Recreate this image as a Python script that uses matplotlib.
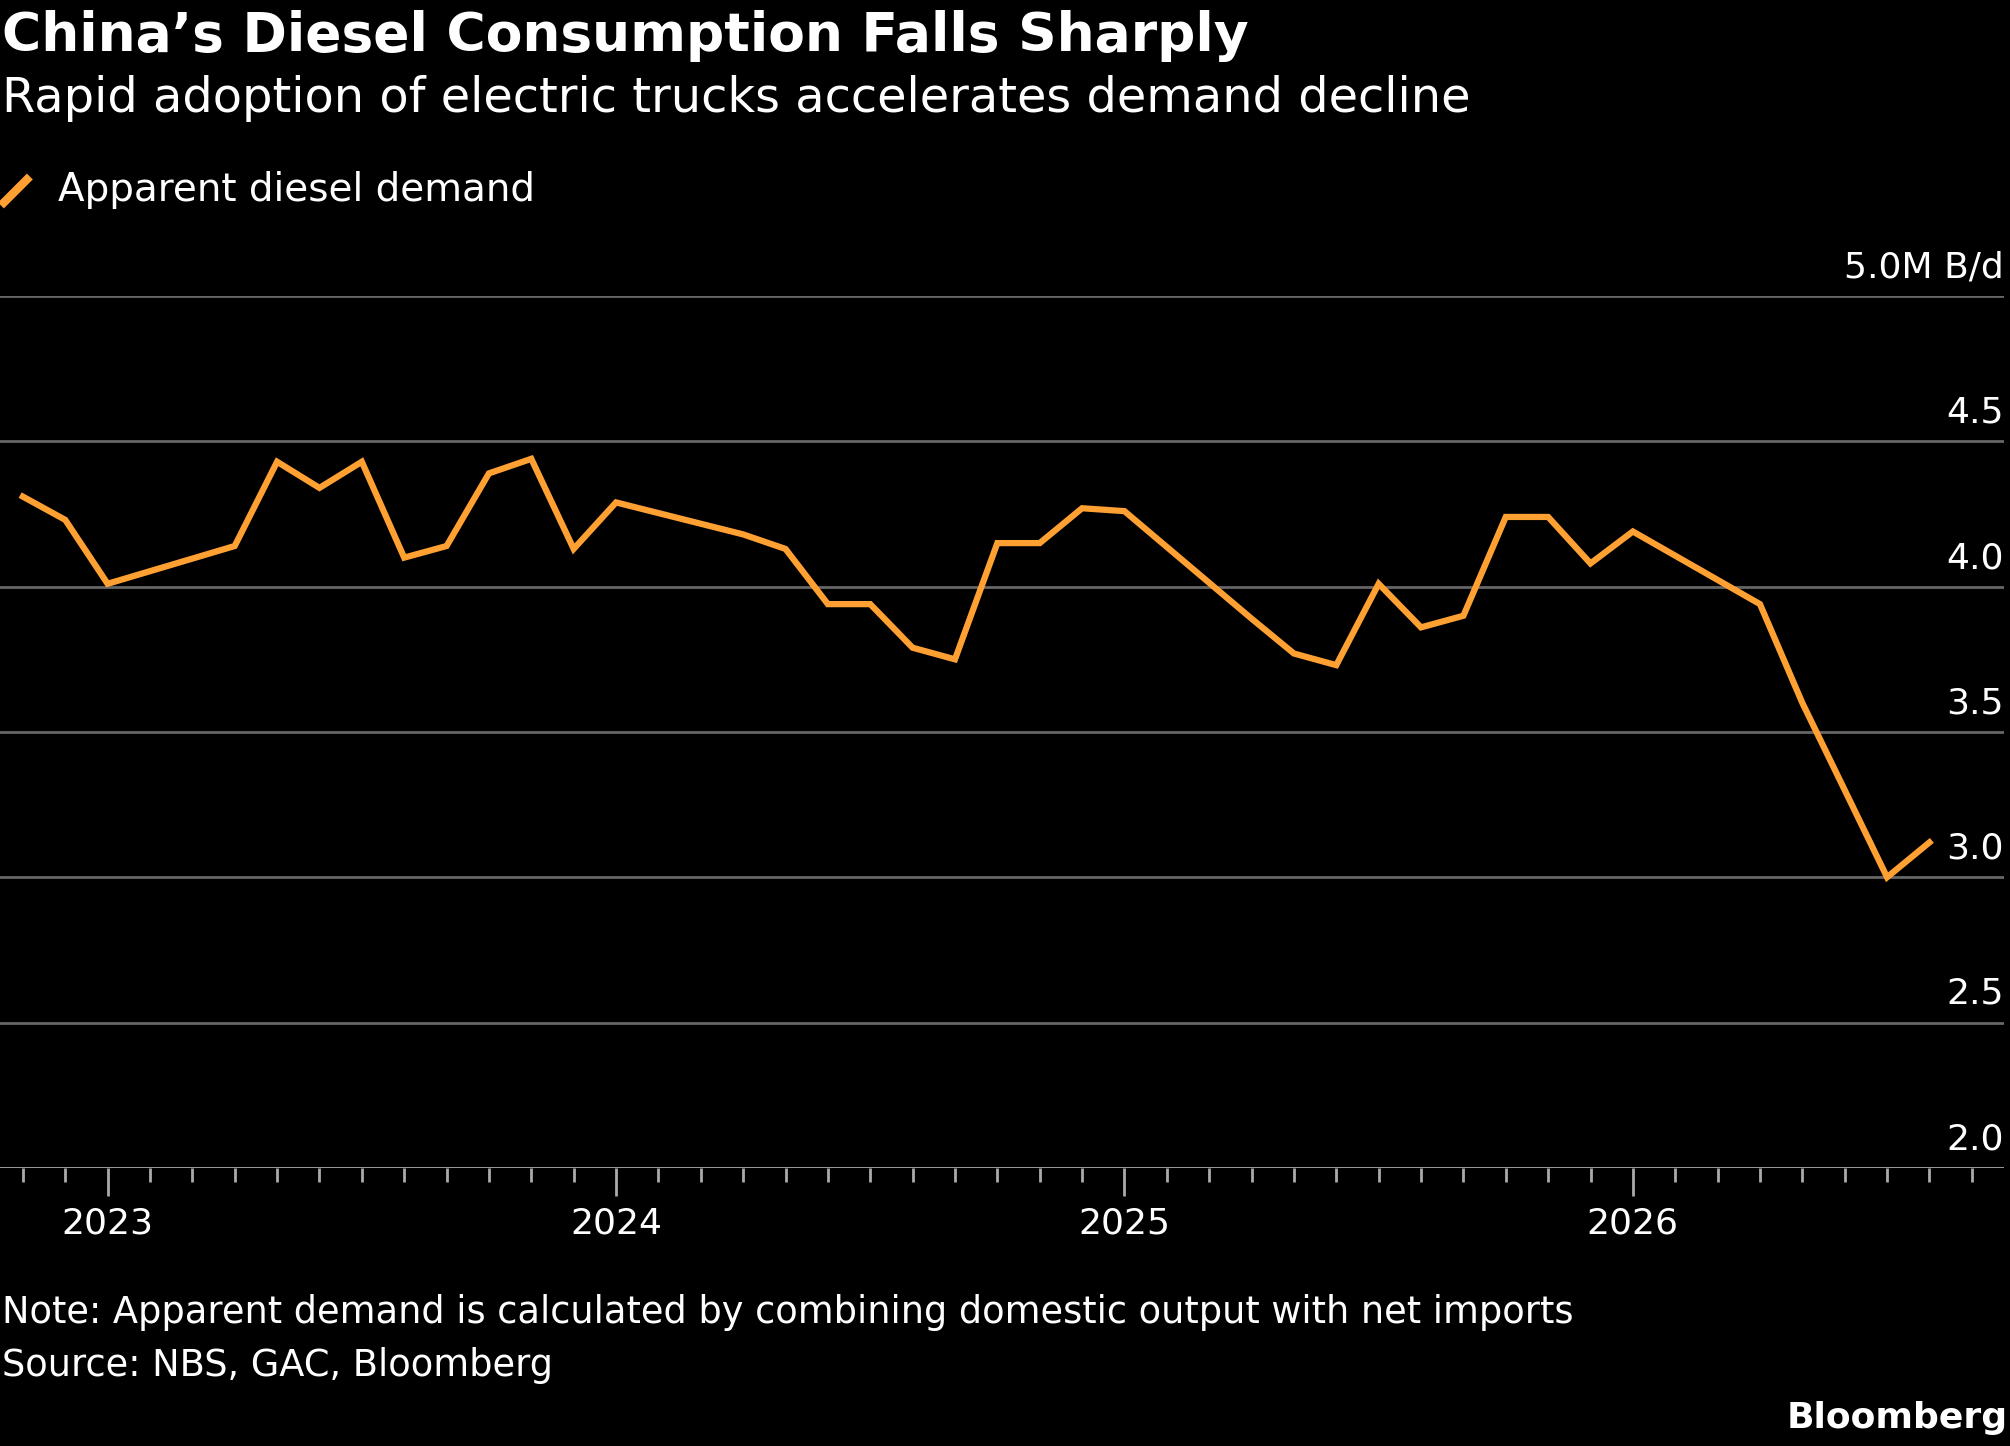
import matplotlib
matplotlib.use("Agg")
import matplotlib.pyplot as plt
import numpy as np

# month offsets from Jan 2023 (0 = Jan 2023)
months = [-2, -1, 0, 3, 4, 5, 6, 7, 8, 9, 10, 11, 12, 15, 16, 17, 18, 19, 20, 21, 22, 23, 24,
          27, 28, 29, 30, 31, 32, 33, 34, 35, 36, 39, 40, 42, 43]
demand = [4.31, 4.23, 4.01, 4.14, 4.43, 4.34, 4.43, 4.10, 4.14, 4.39, 4.44, 4.13, 4.29, 4.18,
          4.13, 3.94, 3.94, 3.79, 3.75, 4.15, 4.15, 4.27, 4.26,
          3.89, 3.77, 3.73, 4.01, 3.86, 3.90, 4.24, 4.24, 4.08, 4.19, 3.94, 3.60, 3.00, 3.12]
year_labels = ["2023", "2024", "2025", "2026"]
yticks = [2.0, 2.5, 3.0, 3.5, 4.0, 4.5, 5.0]
ytick_labels = ["2.0", "2.5", "3.0", "3.5", "4.0", "4.5", "5.0M B/d"]

W, H = 1568, 1128
fig = plt.figure(figsize=(20.1, 14.46), dpi=100, facecolor="black")
plt.rcParams['font.family'] = ['DejaVu Sans']
ax = fig.add_axes([0, 1 - 911 / H, 1563 / W, (911 - 231) / H], facecolor="black")
orange = "#ffa033"
ax.plot(months, demand, color=orange, lw=4.5, solid_joinstyle="miter", zorder=3)
ax.set_xlim(-2.54, 44.75)
ax.set_ylim(2.0, 5.0)
for v in yticks[1:]:
    ax.axhline(v, color="#666666", lw=2, zorder=1)
ax.axhline(2.0, color="#aaaaaa", lw=2, zorder=2)
for v, lab in zip(yticks, ytick_labels):
    ax.text(1.0, v + 0.04, lab, transform=ax.get_yaxis_transform(), ha="right", va="bottom",
            color="white", fontsize=26)
for s in ax.spines.values():
    s.set_visible(False)
ax.set_yticks([])
ax.set_xticks([0, 12, 24, 36])
ax.set_xticklabels(year_labels, color="white", fontsize=26)
ax.set_xticks(np.arange(-2, 45), minor=True)
ax.tick_params(axis="x", which="major", length=20, width=2, color="#aaaaaa", pad=8)
ax.tick_params(axis="x", which="minor", length=10, width=2, color="#aaaaaa")

def ty(y):
    return 1 - y / H

fig.text(0.001, ty(28), "China’s Diesel Consumption Falls Sharply", color="white",
         fontsize=38.5, fontweight="bold", va="center")
fig.text(0.001, ty(77), "Rapid adoption of electric trucks accelerates demand decline",
         color="white", fontsize=34.5, va="center")
fig.add_artist(plt.Line2D([3 / W, 21 / W], [ty(158), ty(140)], color=orange, lw=6,
                          transform=fig.transFigure))
fig.text(45 / W, ty(148), "Apparent diesel demand", color="white", fontsize=28, va="center")
fig.text(0.001, ty(1024), "Note: Apparent demand is calculated by combining domestic output with net imports",
         color="white", fontsize=26.5, va="center")
fig.text(0.001, ty(1065), "Source: NBS, GAC, Bloomberg", color="white", fontsize=26.5, va="center")
fig.text(0.999, ty(1106), "Bloomberg", color="white", fontsize=26, fontweight="bold",
         ha="right", va="center")
fig.savefig("out.png", facecolor="black")
